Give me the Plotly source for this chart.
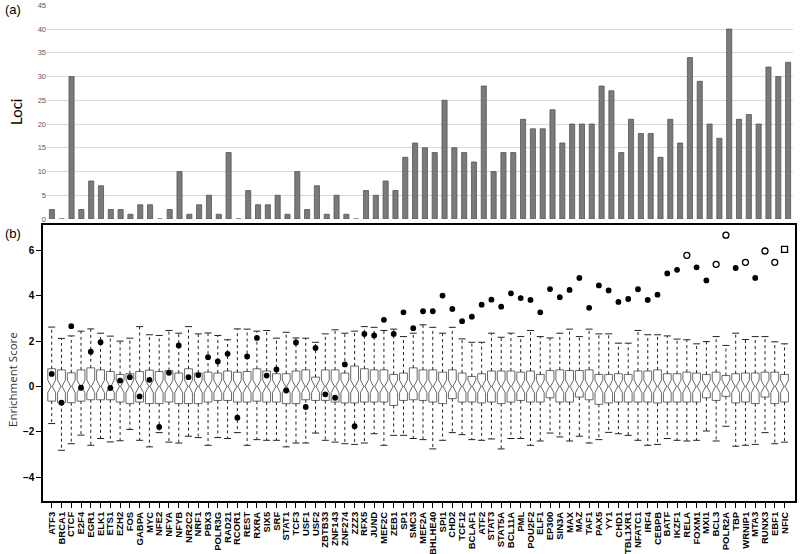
import plotly.graph_objects as go

factors = ["ATF3","BRCA1","CTCF","E2F4","EGR1","ELK1","ETS1","EZH2","FOS","GABPA",
           "MYC","NFE2","NFYA","NFYB","NR2C2","NRF1","PBX3","POLR3G","RAD21","RCOR1",
           "REST","RXRA","SIX5","SRF","STAT1","TCF3","USF1","USF2","ZBTB33","ZNF143",
           "ZNF274","ZZZ3","RFX5","JUND","MEF2C","ZEB1","SP1","SMC3","MEF2A","BHLHE40",
           "SPI1","CHD2","TCF12","BCLAF1","ATF2","STAT3","STAT5A","BCL11A","PML","POU2F2",
           "ELF1","EP300","SIN3A","MAX","MAZ","TAF1","PAX5","YY1","CHD1","TBL1XR1",
           "NFATC1","IRF4","CEBPB","BATF","IKZF1","RELA","FOXM1","MXI1","BCL3","POLR2A",
           "TBP","WRNIP1","MTA3","RUNX3","EBF1","NFIC"]

loci = [2,0,30,2,8,7,2,2,1,3,
        3,0,2,10,1,3,5,1,14,0,
        6,3,3,5,1,10,2,7,1,5,
        1,0,6,5,8,6,13,16,15,14,
        25,15,14,12,28,10,14,14,21,19,
        19,23,16,20,20,20,28,27,14,21,
        18,18,13,21,16,34,29,20,17,40,
        21,22,20,32,30,33]

q3 = [0.78,0.73,0.60,0.73,0.82,0.73,0.66,0.53,0.56,0.66,
      0.72,0.66,0.70,0.59,0.78,0.59,0.63,0.59,0.68,0.63,
      0.66,0.78,0.68,0.56,0.56,0.68,0.73,0.41,0.73,0.73,
      0.59,0.90,0.78,0.73,0.73,0.53,0.59,0.82,0.73,0.73,
      0.63,0.73,0.59,0.44,0.56,0.68,0.68,0.68,0.63,0.68,
      0.53,0.70,0.73,0.70,0.70,0.73,0.53,0.53,0.56,0.53,
      0.68,0.68,0.73,0.56,0.56,0.63,0.59,0.53,0.63,0.48,
      0.56,0.59,0.59,0.63,0.63,0.53]
median = [0.0] * len(factors)
q1 = [-0.65,-0.72,-0.72,-0.65,-0.59,-0.59,-0.59,-0.69,-0.76,-0.69,
      -0.76,-0.76,-0.69,-0.76,-0.76,-0.76,-0.69,-0.62,-0.62,-0.69,
      -0.69,-0.65,-0.69,-0.69,-0.76,-0.76,-0.59,-0.62,-0.62,-0.69,
      -0.73,-0.73,-0.69,-0.69,-0.69,-0.84,-0.62,-0.59,-0.62,-0.69,
      -0.76,-0.54,-0.69,-0.69,-0.73,-0.69,-0.76,-0.69,-0.62,-0.69,
      -0.69,-0.50,-0.69,-0.69,-0.47,-0.59,-0.79,-0.73,-0.69,-0.69,
      -0.69,-0.69,-0.73,-0.69,-0.69,-0.69,-0.69,-0.50,-0.62,-0.44,
      -0.73,-0.69,-0.76,-0.47,-0.76,-0.69]
upper_whisker = [2.62,2.12,2.23,2.44,2.54,2.35,2.22,2.00,2.13,2.64,
                 2.28,2.25,2.47,2.35,2.64,2.32,2.36,2.25,2.06,2.54,
                 2.53,2.44,2.47,2.13,2.39,2.14,2.13,1.95,2.32,2.50,
                 2.35,2.44,2.64,2.61,2.47,2.53,2.20,2.35,2.72,2.61,
                 2.35,2.61,2.10,1.95,1.95,2.35,2.17,2.35,2.20,2.47,
                 2.20,2.14,2.35,2.53,2.20,2.53,2.32,2.32,1.91,1.91,
                 2.47,2.28,2.28,2.23,2.09,2.06,1.88,1.98,2.20,1.81,
                 2.35,2.07,2.20,2.20,1.97,1.88]
lower_whisker = [-1.64,-2.82,-2.53,-2.15,-2.60,-2.30,-2.45,-2.40,-1.90,-2.38,
                 -2.67,-2.04,-2.46,-2.50,-2.20,-2.26,-2.60,-2.26,-2.30,-2.04,
                 -2.60,-2.35,-2.38,-2.38,-2.67,-2.50,-2.50,-2.06,-2.38,-2.46,
                 -2.53,-2.56,-2.50,-2.09,-2.60,-2.16,-2.16,-2.30,-2.35,-2.76,
                 -2.38,-2.04,-2.13,-2.35,-2.38,-2.32,-2.76,-2.30,-2.30,-2.60,
                 -2.41,-2.06,-2.23,-2.41,-2.20,-2.50,-2.35,-2.03,-2.09,-2.16,
                 -2.38,-2.60,-2.56,-2.30,-2.38,-2.41,-2.38,-1.97,-2.41,-1.76,
                 -2.64,-2.60,-2.56,-2.04,-2.53,-2.46]
observed = [0.55,-0.72,2.66,-0.06,1.53,1.95,-0.07,0.26,0.41,-0.44,
            0.29,-1.79,0.60,1.81,0.41,0.50,1.29,1.10,1.44,-1.38,
            1.32,2.14,0.48,0.75,-0.18,1.94,-0.91,1.70,-0.35,-0.50,
            0.97,-1.76,2.32,2.25,2.94,2.32,3.27,2.57,3.32,3.32,
            4.01,3.42,2.88,3.08,3.61,3.83,3.52,4.11,3.90,3.82,
            3.27,4.30,3.94,4.26,4.79,3.47,4.46,4.24,3.73,3.86,
            4.29,3.82,4.05,4.99,5.15,5.79,5.26,4.68,5.39,6.68,
            5.23,5.48,4.79,5.98,5.48,6.05]
point_shape = (["filled"] * 65 + ["open", "filled", "filled", "open", "open",
               "filled", "open", "filled", "open", "open", "square"])

loci_ticks = [0, 5, 10, 15, 20, 25, 30, 35, 40, 45]
score_ticks = [-4, -2, 0, 2, 4, 6]
NOTCH = 0.28

n = len(factors)
pos = list(range(n))

W, H = 800, 554
def fx(px):
    return px / W
def fy(py):
    return 1 - py / H

fig = go.Figure()

# (a) loci bars
fig.add_trace(go.Bar(x=pos, y=loci, marker=dict(color="#7a7a7a", line=dict(color="#555555", width=0.8)),
                     width=0.52, xaxis="x", yaxis="y", showlegend=False, hoverinfo="skip"))

# (b) notched boxes (whiskers drawn separately as dashed lines)
fig.add_trace(go.Box(x=pos, q1=q1, median=median, q3=q3, lowerfence=q1, upperfence=q3,
                     notched=True, notchspan=[NOTCH] * n, notchwidth=0.42, width=0.8,
                     whiskerwidth=0, fillcolor="white", line=dict(color="#6a6a6a", width=1),
                     boxpoints=False, xaxis="x2", yaxis="y2", showlegend=False, hoverinfo="skip"))

wx, wy = [], []
for i in range(n):
    wx += [pos[i], pos[i], None, pos[i], pos[i], None]
    wy += [q3[i], upper_whisker[i], None, q1[i], lower_whisker[i], None]
fig.add_trace(go.Scatter(x=wx, y=wy, mode="lines", line=dict(color="#222222", width=1, dash="dot"),
                         xaxis="x2", yaxis="y2", showlegend=False, hoverinfo="skip"))
fig.add_trace(go.Scatter(x=pos + pos, y=upper_whisker + lower_whisker, mode="markers",
                         marker=dict(symbol="line-ew", size=5, line=dict(color="#222222", width=1)),
                         xaxis="x2", yaxis="y2", showlegend=False, hoverinfo="skip"))

for shape, sym, size in [("filled", "circle", 4.5),
                         ("open", "circle-open", 6),
                         ("square", "square-open", 6)]:
    xs = [pos[i] for i in range(n) if point_shape[i] == shape]
    ys = [observed[i] for i in range(n) if point_shape[i] == shape]
    fig.add_trace(go.Scatter(x=xs, y=ys, mode="markers",
                             marker=dict(symbol=sym, size=size, color="black",
                                         line=dict(color="black", width=1.3)),
                             xaxis="x2", yaxis="y2", showlegend=False, hoverinfo="skip"))

fig.update_layout(
    width=W, height=H, margin=dict(l=0, r=0, t=0, b=0),
    paper_bgcolor="white", plot_bgcolor="white", template="none",
    xaxis=dict(domain=[fx(47), fx(793)], range=[-0.5, 75.5], showticklabels=False,
               showgrid=False, zeroline=False, showline=False, ticks="", anchor="y"),
    yaxis=dict(domain=[fy(219), fy(5.3)], range=[0, 45], tickvals=loci_ticks,
               showgrid=True, gridcolor="#d9d9d9", gridwidth=1, zeroline=False,
               showline=False, ticks="", tickfont=dict(family="Liberation Sans", size=7.5, color="#595959"),
               anchor="x"),
    xaxis2=dict(domain=[fx(43.3), fx(795)], range=[-0.86, 76.07], tickvals=pos, ticktext=factors,
                tickangle=-90, ticks="outside", ticklen=5, tickwidth=1, tickcolor="black",
                showline=True, mirror=True, linecolor="black", linewidth=2,
                showgrid=False, zeroline=False, anchor="y2",
                tickfont=dict(family="Liberation Sans", size=9.5, color="black", weight="bold")),
    yaxis2=dict(domain=[fy(501), fy(224.5)], range=[-5.06, 7.15], tickvals=score_ticks,
                ticks="outside", ticklen=5, tickwidth=1, tickcolor="black",
                showline=True, mirror=True, linecolor="black", linewidth=2,
                showgrid=False, zeroline=False, anchor="x2",
                tickfont=dict(family="Liberation Sans", size=10, color="black", weight="bold")),
    annotations=[
        dict(text="(a)", x=fx(3), y=fy(9), xref="paper", yref="paper", xanchor="left", yanchor="middle",
             showarrow=False, font=dict(family="Liberation Sans", size=13, color="black")),
        dict(text="(b)", x=fx(3), y=fy(233), xref="paper", yref="paper", xanchor="left", yanchor="middle",
             showarrow=False, font=dict(family="Liberation Sans", size=13, color="black")),
        dict(text="Loci", x=fx(16), y=fy(112), xref="paper", yref="paper", textangle=-90,
             xanchor="center", yanchor="middle", showarrow=False,
             font=dict(family="Lato", size=15, color="black")),
        dict(text="Enrichment Score", x=fx(12), y=fy(380), xref="paper", yref="paper", textangle=-90,
             xanchor="center", yanchor="middle", showarrow=False,
             font=dict(family="Open Sans", size=11.5, color="#333333")),
    ],
)

fig.write_html("out.html", config={"displayModeBar": False},
               post_script="document.body.style.margin='0px';")
